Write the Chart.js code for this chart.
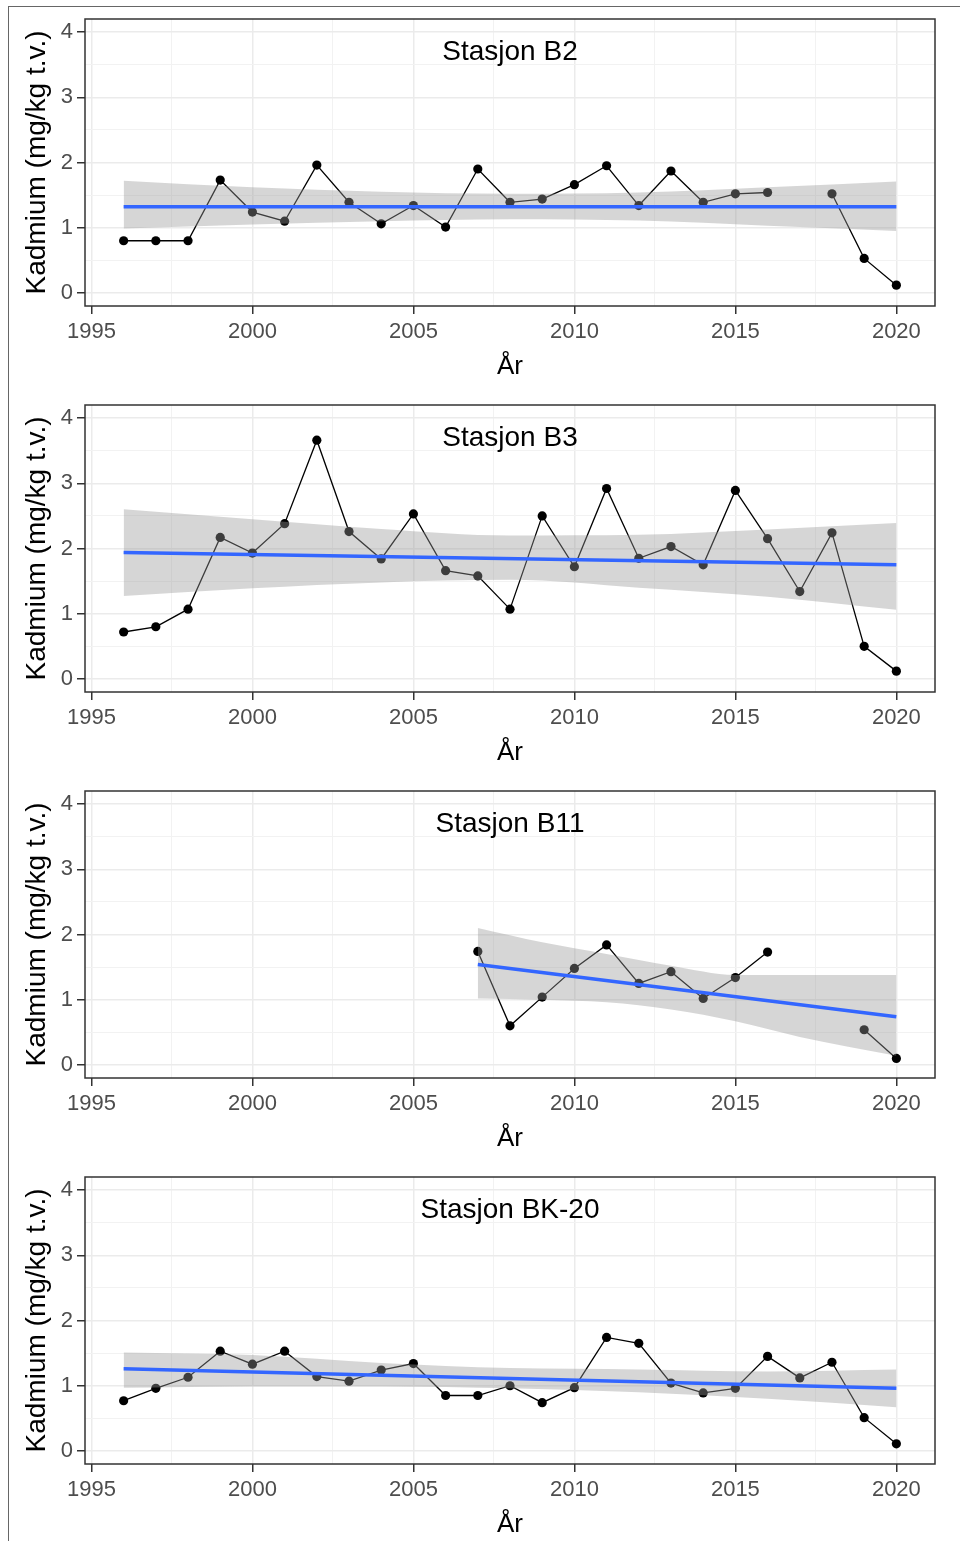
<!DOCTYPE html>
<html>
<head>
<meta charset="utf-8">
<script src="https://cdn.jsdelivr.net/npm/chart.js@4"></script>
<style>
  body { margin: 0; background: #fff; overflow: hidden; }
  #frame { position: absolute; left: 8px; top: 6px; width: 960px; height: 1541px;
           border-left: 1.5px solid #666; border-top: 1.5px solid #666; }
  canvas { position: absolute; left: 0; }
</style>
</head>
<body>
<div id="frame"></div>
<canvas id="c-b2" width="960" height="386" style="top:0px"></canvas>
<canvas id="c-b3" width="960" height="386" style="top:386px"></canvas>
<canvas id="c-b11" width="960" height="386" style="top:772px"></canvas>
<canvas id="c-bk20" width="960" height="386" style="top:1158px"></canvas>
<script>
const years = [1996, 1997, 1998, 1999, 2000, 2001, 2002, 2003, 2004, 2005, 2006, 2007, 2008,
               2009, 2010, 2011, 2012, 2013, 2014, 2015, 2016, 2017, 2018, 2019, 2020];

const b2Values = [0.80, 0.80, 0.80, 1.73, 1.24, 1.10, 1.96, 1.39, 1.06, 1.34, 1.01, 1.90, 1.39,
                  1.44, 1.66, 1.95, 1.34, 1.87, 1.39, 1.52, 1.54, null, 1.52, 0.53, 0.12];
const b3Values = [0.72, 0.80, 1.07, 2.17, 1.93, 2.38, 3.66, 2.26, 1.84, 2.53, 1.66, 1.58, 1.07,
                  2.50, 1.72, 2.92, 1.85, 2.03, 1.75, 2.89, 2.15, 1.34, 2.24, 0.50, 0.12];
const b11Values = [null, null, null, null, null, null, null, null, null, null, null, 1.74, 0.60,
                   1.04, 1.48, 1.84, 1.25, 1.43, 1.02, 1.34, 1.73, null, null, 0.54, 0.10];
const bk20Values = [0.77, 0.96, 1.13, 1.53, 1.33, 1.53, 1.14, 1.07, 1.24, 1.34, 0.85, 0.85, 1.00,
                    0.74, 0.97, 1.74, 1.65, 1.04, 0.89, 0.96, 1.45, 1.12, 1.36, 0.51, 0.11];

// trend line (lm) and its confidence band
const fullTrendYears = [1996, 2020];
const b2Trend = [1.32, 1.32];
const b3Trend = [1.94, 1.75];
const bk20Trend = [1.26, 0.96];
const b11TrendYears = [2007, 2020];
const b11Trend = [1.54, 0.74];

const bandYears = [1996, 2000, 2004, 2008, 2012, 2016, 2020];
const b2Upper = [1.72, 1.62, 1.55, 1.52, 1.54, 1.62, 1.71];
const b2Lower = [0.99, 1.05, 1.10, 1.13, 1.11, 1.03, 0.95];
const b3Upper = [2.60, 2.45, 2.30, 2.20, 2.21, 2.29, 2.39];
const b3Lower = [1.27, 1.39, 1.48, 1.52, 1.40, 1.26, 1.06];
const bk20Upper = [1.51, 1.47, 1.35, 1.27, 1.25, 1.22, 1.25];
const bk20Lower = [0.97, 0.99, 0.99, 0.96, 0.90, 0.80, 0.67];
const b11BandYears = [2007, 2009, 2011, 2013, 2015, 2017, 2020];
const b11Upper = [2.10, 1.88, 1.70, 1.52, 1.38, 1.38, 1.38];
const b11Lower = [1.02, 1.00, 0.96, 0.85, 0.67, 0.43, 0.14];

const xMajor = [1995, 2000, 2005, 2010, 2015, 2020];
const xMinor = [1997.5, 2002.5, 2007.5, 2012.5, 2017.5];
const yMajor = [0, 1, 2, 3, 4];
const yMinor = [0.5, 1.5, 2.5, 3.5];

Chart.defaults.font.family = '"Liberation Sans", Arial, sans-serif';

const pts = (xs, ys) => ys.map((v, i) => ({ x: xs[i], y: v }));

// panel border + station label inside the plot
const panelDecor = {
  id: 'panelDecor',
  afterDatasetsDraw(chart, args, opts) {
    const { ctx, chartArea: a, scales } = chart;
    ctx.save();
    ctx.strokeStyle = '#333';
    ctx.lineWidth = 1.5;
    ctx.strokeRect(a.left, a.top, a.right - a.left, a.bottom - a.top);
    ctx.font = '28px "Liberation Sans", Arial, sans-serif';
    ctx.fillStyle = '#000';
    ctx.textAlign = 'center';
    ctx.textBaseline = 'alphabetic';
    ctx.fillText(opts.text, scales.x.getPixelForValue(2008), scales.y.getPixelForValue(3.57));
    ctx.restore();
  }
};

function axis(majors, minors) {
  return {
    bounds: 'data',
    afterBuildTicks: s => { s.ticks = majors.concat(minors).sort((a, b) => a - b).map(v => ({ value: v })); },
    grid: {
      color: c => majors.includes(c.tick.value) ? '#ebebeb' : '#f2f2f2',
      lineWidth: c => majors.includes(c.tick.value) ? 1.5 : 1,
      tickColor: c => majors.includes(c.tick.value) ? '#333' : 'rgba(0,0,0,0)',
      tickLength: 8
    },
    border: { display: false },
    ticks: {
      autoSkip: false,
      maxRotation: 0,
      color: '#4d4d4d',
      font: { size: 22 },
      callback: v => majors.includes(v) ? String(v) : ''
    }
  };
}

function makePanel(id, station, values, tYears, tValues, bYears, upper, lower) {
  const xAxis = axis(xMajor, xMinor);
  Object.assign(xAxis, {
    type: 'linear', min: 1994.8, max: 2021.2,
    title: { display: true, text: 'År', color: '#000', font: { size: 26 }, padding: { top: 0, bottom: 4 } },
    afterFit: s => { s.height = 80; }
  });
  xAxis.ticks.padding = 5;
  const yAxis = axis(yMajor, yMinor);
  Object.assign(yAxis, {
    min: -0.2, max: 4.2,
    title: { display: true, text: 'Kadmium (mg/kg t.v.)', color: '#000', font: { size: 28 }, padding: { top: 20, bottom: 0 } },
    afterFit: s => { s.width = 85; }
  });
  yAxis.ticks.padding = 4;

  new Chart(document.getElementById(id), {
    type: 'line',
    data: {
      datasets: [
        { data: pts(tYears, tValues), borderColor: '#3366FF', borderWidth: 3.5, pointRadius: 0, order: 0 },
        { data: pts(bYears, upper), borderColor: 'rgba(0,0,0,0)', borderWidth: 0, pointRadius: 0,
          fill: '+1', backgroundColor: 'rgba(153,153,153,0.4)', cubicInterpolationMode: 'monotone', order: 1 },
        { data: pts(bYears, lower), borderColor: 'rgba(0,0,0,0)', borderWidth: 0, pointRadius: 0,
          fill: false, cubicInterpolationMode: 'monotone', order: 1 },
        { data: pts(years, values), borderColor: '#000', borderWidth: 1.3, pointRadius: 4.6,
          pointBackgroundColor: '#000', pointBorderWidth: 0, spanGaps: false, order: 2 }
      ]
    },
    options: {
      responsive: false,
      animation: false,
      layout: { padding: { top: 19, right: 25, left: 0, bottom: 0 } },
      plugins: { legend: { display: false }, tooltip: { enabled: false }, panelDecor: { text: station } },
      scales: { x: xAxis, y: yAxis }
    },
    plugins: [panelDecor]
  });
}

makePanel('c-b2', 'Stasjon B2', b2Values, fullTrendYears, b2Trend, bandYears, b2Upper, b2Lower);
makePanel('c-b3', 'Stasjon B3', b3Values, fullTrendYears, b3Trend, bandYears, b3Upper, b3Lower);
makePanel('c-b11', 'Stasjon B11', b11Values, b11TrendYears, b11Trend, b11BandYears, b11Upper, b11Lower);
makePanel('c-bk20', 'Stasjon BK-20', bk20Values, fullTrendYears, bk20Trend, bandYears, bk20Upper, bk20Lower);
</script>
</body>
</html>
